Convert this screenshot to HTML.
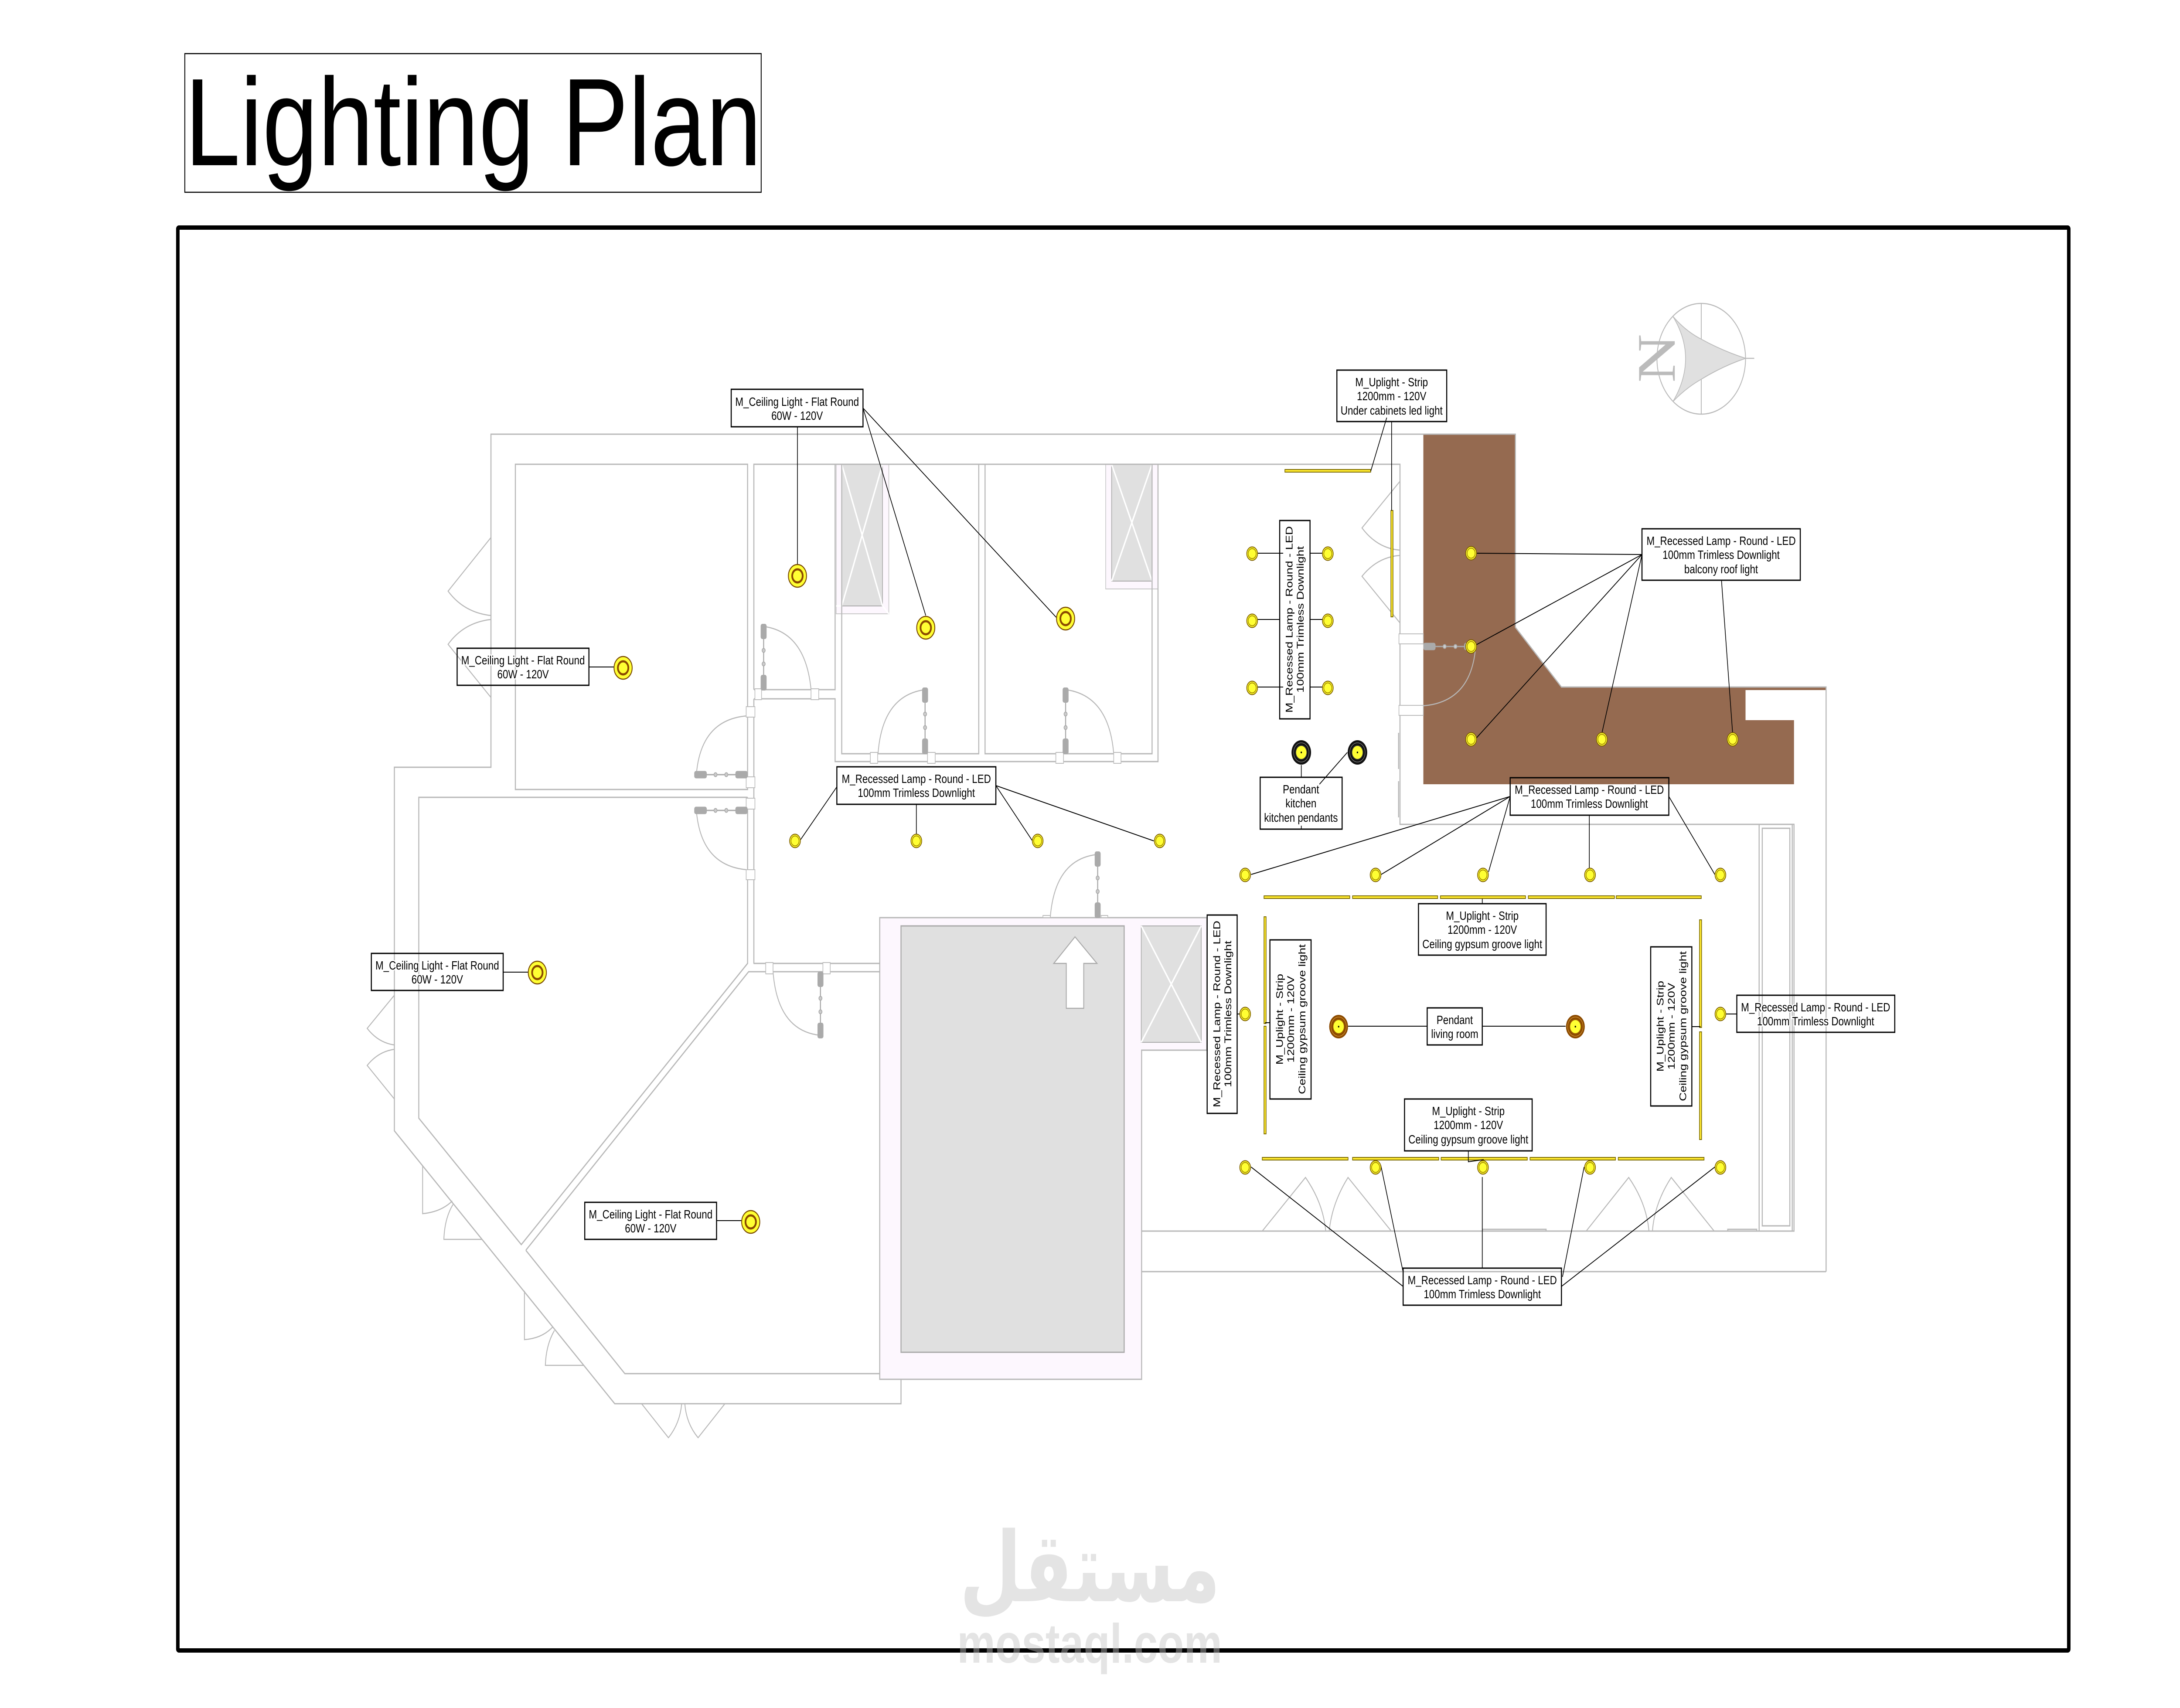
<!DOCTYPE html>
<html><head><meta charset="utf-8"><style>
html,body{margin:0;padding:0;background:#fff;width:100vw;height:100vh;overflow:hidden}
svg{display:block;width:100vw;height:100vh}
.w{fill:none;stroke:#b8b8b8;stroke-width:3}
.j{fill:#fff;stroke:#bdbdbd;stroke-width:2}
.b{fill:none;stroke:#000;stroke-width:3}
.l{fill:none;stroke:#000;stroke-width:2}
.t{font:28px "Liberation Sans",sans-serif;text-anchor:middle;fill:#000;paint-order:stroke;stroke:#fff;stroke-width:5}
.s{fill:#ffe930;stroke:#7a6a00;stroke-width:2}
</style></head><body>
<svg xmlns="http://www.w3.org/2000/svg" viewBox="0 0 6252 3918" preserveAspectRatio="none">
<defs>
<g id="door"><rect x="-8.5" y="0" width="17" height="35" rx="5" fill="#aaa"/><rect x="-8.5" y="117" width="17" height="36" rx="5" fill="#aaa"/><rect x="-1.5" y="30" width="3" height="90" fill="#aaa"/><circle cx="0" cy="61" r="4.5" fill="#ccc" stroke="#aaa" stroke-width="2"/><circle cx="0" cy="92" r="4.5" fill="#ccc" stroke="#aaa" stroke-width="2"/></g>
<g id="c"><circle r="26" fill="#ffff33" stroke="#7a4a00" stroke-width="2.5"/><circle r="15" fill="#ffff33" stroke="#8b4a00" stroke-width="5"/></g>
<g id="r"><circle r="15.5" fill="#ffff33" stroke="#7a5a00" stroke-width="2"/><circle r="11.5" fill="#ffff33" stroke="#a58a00" stroke-width="2"/></g>
<g id="pk"><circle r="28" fill="#111"/><circle r="22" fill="none" stroke="#777" stroke-width="1.5"/><circle r="16" fill="#ffff33" stroke="#333" stroke-width="2"/><circle r="2" fill="#000"/></g>
<g id="pl"><circle r="27" fill="#8b4a00"/><circle r="22" fill="none" stroke="#d09030" stroke-width="1.5"/><circle r="16" fill="#ffff33" stroke="#a06000" stroke-width="2"/><circle r="2" fill="#000"/></g>
</defs>

<!-- title -->
<rect x="530" y="123" width="1653" height="318" fill="#fff" stroke="#000" stroke-width="2.5"/>
<text x="530" y="379" font-family="Liberation Sans, sans-serif" font-size="286" textLength="1654" lengthAdjust="spacingAndGlyphs">Lighting Plan</text>

<!-- frame -->
<rect x="510" y="522" width="5423" height="3264" rx="3" fill="#fff" stroke="#000" stroke-width="10"/>

<!-- balcony -->
<polygon points="4082,996 4346,996 4346,1439 4478,1576 5237,1576 5237,1583 5006,1583 5006,1652 5145,1652 5145,1799 4082,1799" fill="#956a50"/>
<polyline class="w" points="4082,996 4346,996 4346,1439 4478,1576 5237,1576 5237,2917"/>

<!-- pink regions -->
<polygon points="2523,2105 3461,2105 3461,2409 3274,2409 3274,3164 2523,3164" fill="#fdf7fe" stroke="#b8b8b8" stroke-width="3"/>
<rect x="2584" y="2124" width="640" height="978" fill="#e0e0e0" stroke="#aaa" stroke-width="3"/>
<rect x="3273" y="2124" width="172" height="267" fill="#e0e0e0" stroke="#aaa" stroke-width="2"/>
<path d="M3273,2124L3445,2391M3445,2124L3273,2391" stroke="#fff" stroke-width="4" fill="none"/>
<polygon points="3083,2149 3146,2210 3108,2210 3108,2313 3058,2313 3058,2210 3022,2210" fill="#fff" stroke="#aaa" stroke-width="2.5"/>
<rect x="2398" y="1065" width="151" height="343" fill="#fdf7fe" stroke="#c8c8c8" stroke-width="2"/>
<rect x="2414" y="1065" width="117" height="325" fill="#e0e0e0" stroke="#aaa" stroke-width="2"/>
<path d="M2414,1065L2531,1390M2531,1065L2414,1390M2398,1390L2414,1390M2531,1390L2549,1408" stroke="#fff" stroke-width="4" fill="none"/>
<rect x="3171" y="1065" width="150" height="286" fill="#fdf7fe" stroke="#c8c8c8" stroke-width="2"/>
<rect x="3188" y="1065" width="116" height="268" fill="#e0e0e0" stroke="#aaa" stroke-width="2"/>
<path d="M3188,1065L3304,1333M3304,1065L3188,1333" stroke="#fff" stroke-width="4" fill="none"/>

<!-- walls -->
<polyline class="w" points="4082,996 1408,996 1408,1760 1131,1760 1131,2594 1763,3220 2584,3220 2584,3164"/>
<rect class="w" x="1478" y="1065" width="666" height="746"/>
<polyline class="w" points="2144,1829 1201,1829 1201,2565 1495,2855 2144,2210 2144,1829"/>
<polyline class="w" points="1508,2868 2147,2229 2523,2229"/>
<polyline class="w" points="1508,2868 1792,3151 2523,3151"/>
<polyline class="w" points="2161,2210 2523,2210"/>
<polyline class="w" points="2162,1603 2162,2210"/>
<polyline class="w" points="2162,1582 2162,1065 4015,1065 4015,1891 5145,1891 5145,2824 3274,2824"/>
<polyline class="w" points="2162,1582 2395,1582 2395,1065"/>
<polyline class="w" points="2162,1603 2395,1603 2395,1747 3321,1747 3321,1065"/>
<polyline class="w" points="2414,1065 2414,1729 2807,1729 2807,1065"/>
<polyline class="w" points="2825,1065 2825,1729 3304,1729 3304,1065"/>
<polyline class="w" points="3274,2917 5237,2917"/>
<rect class="w" x="5045" y="1891" width="95" height="933" stroke-width="2.5"/>
<rect class="w" x="5054" y="1900" width="79" height="912" stroke-width="2.5"/>
<path class="w" d="M4252,2824V2820H4434V2824M4955,2824V2820H5038V2824M4011,1681V1764M4011,1792V1875" stroke-width="2"/>

<!-- door swings -->
<g class="w" style="stroke-width:2.5">
<path d="M1408,1233L1285,1356Q1330,1405 1408,1412M1408,1421Q1330,1428 1285,1478L1408,1600"/>
<path d="M2190,1437Q2310,1450 2326,1582"/>
<path d="M1997,1777Q2010,1650 2144,1642"/>
<path d="M1997,1859Q2010,1985 2140,1995"/>
<path d="M2653,1582Q2530,1595 2518,1730"/>
<path d="M3056,1582Q3180,1595 3194,1729"/>
<path d="M3148,1960Q3025,1970 3012,2105"/>
<path d="M2353,2375Q2230,2365 2217,2229"/>
<path d="M4232,1483Q4220,1610 4082,1619"/>
<path d="M1131,2283L1053,2359Q1085,2392 1131,2397M1131,2407Q1085,2412 1053,2444L1131,2521"/>
<path d="M1212,2673V2784Q1265,2780 1297,2755M1299,2763Q1275,2795 1273,2843H1383"/>
<path d="M1504,2961V3073Q1555,3070 1585,3044M1590,3052Q1566,3085 1564,3132H1675"/>
<path d="M1840,3220L1917,3298Q1950,3265 1955,3220M1964,3220Q1968,3265 2002,3298L2079,3220"/>
<path d="M4015,1104L3906,1211Q3950,1258 4015,1262M4015,1274Q3950,1278 3906,1322L4015,1429"/>
<path d="M3620,2824L3744,2701Q3795,2760 3802,2824M3812,2824Q3820,2760 3866,2701L3990,2824"/>
<path d="M4549,2824L4671,2701Q4722,2760 4729,2824M4739,2824Q4745,2760 4793,2701L4916,2824"/>
</g>
<!-- door jambs -->
<g class="j">
<rect x="2496" y="1726" width="21" height="25"/><rect x="2660" y="1726" width="22" height="25"/>
<rect x="3028" y="1726" width="22" height="25"/><rect x="3194" y="1726" width="21" height="25"/>
<rect x="2165" y="1580" width="19" height="25"/><rect x="2326" y="1580" width="22" height="25"/>
<rect x="2140" y="1621" width="25" height="24"/><rect x="2140" y="1782" width="25" height="25"/>
<rect x="2140" y="1831" width="25" height="25"/><rect x="2140" y="1995" width="25" height="23"/>
<rect x="2196" y="2208" width="21" height="26"/><rect x="2360" y="2208" width="21" height="26"/>
<rect x="2991" y="2100" width="21" height="5"/><rect x="3158" y="2100" width="19" height="5"/>
<rect x="4012" y="1454" width="70" height="23"/><rect x="4012" y="1618" width="70" height="23"/>
</g>
<use href="#door" transform="translate(2190,1431)"/>
<use href="#door" transform="translate(2653,1577)"/>
<use href="#door" transform="translate(3056,1577)"/>
<use href="#door" transform="translate(3148,1953)"/>
<use href="#door" transform="translate(2353,2229)"/>
<use href="#door" transform="translate(2144,1777) rotate(90)"/>
<use href="#door" transform="translate(2144,1859) rotate(90)"/>
<use href="#door" transform="translate(4082,1483) rotate(-90)"/>

<!-- compass -->
<circle cx="4879" cy="823" r="127" fill="none" stroke="#bbb" stroke-width="2.5"/>
<path d="M4879,696V950M5006,822H5031" stroke="#bbb" stroke-width="2.5" fill="none"/>
<path d="M4798,726Q4835,760 4879,778Q4940,805 5006,822Q4940,840 4879,870Q4835,890 4798,921Q4870,822 4798,726Z" fill="#e0e0e0" stroke="#bbb" stroke-width="2"/>
<text transform="translate(4803,878) rotate(-90)" font-family="Liberation Serif, serif" font-size="156" fill="#bbb" textLength="112" lengthAdjust="spacingAndGlyphs">N</text>

<!-- strips -->
<g class="s">
<rect x="3685" y="1077" width="246" height="6"/><rect x="3989" y="1171" width="6" height="244"/>
<rect x="3625" y="2055" width="246" height="6"/><rect x="3879" y="2055" width="244" height="6"/><rect x="4131" y="2055" width="244" height="6"/><rect x="4383" y="2055" width="247" height="6"/><rect x="4635" y="2055" width="244" height="6"/>
<rect x="3620" y="2655" width="246" height="6"/><rect x="3879" y="2655" width="247" height="6"/><rect x="4133" y="2655" width="247" height="6"/><rect x="4388" y="2655" width="245" height="6"/><rect x="4641" y="2655" width="246" height="6"/>
<rect x="3625" y="2103" width="6" height="245"/><rect x="3625" y="2354" width="6" height="247"/>
<rect x="4874" y="2110" width="6" height="247"/><rect x="4874" y="2367" width="6" height="247"/>
</g>

<!-- leaders -->
<path class="l" d="M2287,979V1295M2475,936L2655,1412M2475,936L3029,1416
M1689,1530H1761M1443,2230H1515M2055,2800H2127
M2400,1805L2296,1926M2628,1845V1914M2856,1802L2961,1929M2856,1802L3309,1929
M3732,1783V1755M3864,1726L3784,1799M3732,1902V1894
M3606,1269H3680M3606,1421H3670M3606,1576H3680M3757,1269H3793M3757,1421H3793M3757,1576H3793
M3977,958L3931,1081M3991,967V1171
M4709,1272L4234,1269M4709,1272L4234,1479M4709,1272L4234,1693M4709,1272L4594,1682M4937,1331L4969,1682
M4331,1827L3588,2006M4331,1827L3961,2006M4331,1827L4269,2000M4558,1870V1992M4786,1827L4918,2006
M4251,2073V2062M4211,2640V2665L4255,2660
M3628,2346H3642M4852,2355H4877M3548,2326H3556
M3866,2354H4093M4251,2354H4490M4950,2326H4981
M4024,2951L3588,2677M4024,2918L3960,2673M4251,2909V2700M4481,2929L4543,2677M4478,2951L4918,2677"/>

<!-- lights -->
<use href="#c" x="2287" y="1321"/><use href="#c" x="2655" y="1440"/><use href="#c" x="3056" y="1419"/><use href="#c" x="1787" y="1532"/><use href="#c" x="1541" y="2231"/><use href="#c" x="2153" y="2803"/>
<use href="#r" x="2280" y="1929"/><use href="#r" x="2628" y="1929"/><use href="#r" x="2976" y="1929"/><use href="#r" x="3326" y="1929"/>
<use href="#r" x="3591" y="1270"/><use href="#r" x="3808" y="1270"/><use href="#r" x="3591" y="1424"/><use href="#r" x="3808" y="1424"/><use href="#r" x="3591" y="1578"/><use href="#r" x="3808" y="1578"/>
<use href="#r" x="4219" y="1269"/><use href="#r" x="4219" y="1483"/><use href="#r" x="4219" y="1696"/><use href="#r" x="4594" y="1696"/><use href="#r" x="4969" y="1696"/>
<use href="#r" x="3571" y="2007"/><use href="#r" x="3945" y="2007"/><use href="#r" x="4253" y="2007"/><use href="#r" x="4560" y="2007"/><use href="#r" x="4934" y="2007"/>
<use href="#r" x="3571" y="2326"/><use href="#r" x="4934" y="2326"/>
<use href="#r" x="3571" y="2678"/><use href="#r" x="3945" y="2678"/><use href="#r" x="4253" y="2678"/><use href="#r" x="4560" y="2678"/><use href="#r" x="4934" y="2678"/>
<use href="#pk" x="3732" y="1726"/><use href="#pk" x="3893" y="1726"/>
<use href="#pl" x="3839" y="2355"/><use href="#pl" x="4518" y="2355"/>

<!-- label boxes -->
<rect class="b" x="2097" y="893" width="378" height="86"/>
<text class="t" x="2286" y="931">M_Ceiling Light - Flat Round</text><text class="t" x="2286" y="963">60W - 120V</text>
<rect class="b" x="1311" y="1487" width="378" height="85"/>
<text class="t" x="1500" y="1524">M_Ceiling Light - Flat Round</text><text class="t" x="1500" y="1556">60W - 120V</text>
<rect class="b" x="1065" y="2187" width="378" height="85"/>
<text class="t" x="1254" y="2224">M_Ceiling Light - Flat Round</text><text class="t" x="1254" y="2256">60W - 120V</text>
<rect class="b" x="1677" y="2758" width="378" height="85"/>
<text class="t" x="1866" y="2795">M_Ceiling Light - Flat Round</text><text class="t" x="1866" y="2827">60W - 120V</text>
<rect class="b" x="2400" y="1759" width="456" height="86"/>
<text class="t" x="2628" y="1796">M_Recessed Lamp - Round - LED</text><text class="t" x="2628" y="1828">100mm Trimless Downlight</text>
<rect class="b" x="3614" y="1783" width="235" height="119"/>
<text class="t" x="3731" y="1820">Pendant</text><text class="t" x="3731" y="1852">kitchen</text><text class="t" x="3731" y="1885">kitchen pendants</text>
<rect class="b" x="3670" y="1194" width="87" height="455"/>
<text class="t" transform="translate(3707,1421) rotate(-90)">M_Recessed Lamp - Round - LED</text><text class="t" transform="translate(3739,1421) rotate(-90)">100mm Trimless Downlight</text>
<rect class="b" x="3834" y="849" width="315" height="118"/>
<text class="t" x="3991" y="886">M_Uplight - Strip</text><text class="t" x="3991" y="918">1200mm - 120V</text><text class="t" x="3991" y="951">Under cabinets led light</text>
<rect class="b" x="4709" y="1213" width="454" height="118"/>
<text class="t" x="4936" y="1250">M_Recessed Lamp - Round - LED</text><text class="t" x="4936" y="1282">100mm Trimless Downlight</text><text class="t" x="4936" y="1315">balcony roof light</text>
<rect class="b" x="4331" y="1784" width="455" height="86"/>
<text class="t" x="4558" y="1821">M_Recessed Lamp - Round - LED</text><text class="t" x="4558" y="1853">100mm Trimless Downlight</text>
<rect class="b" x="4068" y="2073" width="366" height="118"/>
<text class="t" x="4251" y="2110">M_Uplight - Strip</text><text class="t" x="4251" y="2142">1200mm - 120V</text><text class="t" x="4251" y="2175">Ceiling gypsum groove light</text>
<rect class="b" x="4028" y="2521" width="366" height="119"/>
<text class="t" x="4211" y="2558">M_Uplight - Strip</text><text class="t" x="4211" y="2590">1200mm - 120V</text><text class="t" x="4211" y="2623">Ceiling gypsum groove light</text>
<rect class="b" x="3642" y="2156" width="118" height="365"/>
<text class="t" transform="translate(3679,2338) rotate(-90)">M_Uplight - Strip</text><text class="t" transform="translate(3711,2338) rotate(-90)">1200mm - 120V</text><text class="t" transform="translate(3744,2338) rotate(-90)">Ceiling gypsum groove light</text>
<rect class="b" x="4734" y="2172" width="118" height="365"/>
<text class="t" transform="translate(4771,2354) rotate(-90)">M_Uplight - Strip</text><text class="t" transform="translate(4803,2354) rotate(-90)">1200mm - 120V</text><text class="t" transform="translate(4836,2354) rotate(-90)">Ceiling gypsum groove light</text>
<rect class="b" x="3462" y="2099" width="86" height="455"/>
<text class="t" transform="translate(3499,2326) rotate(-90)">M_Recessed Lamp - Round - LED</text><text class="t" transform="translate(3531,2326) rotate(-90)">100mm Trimless Downlight</text>
<rect class="b" x="4093" y="2312" width="158" height="85"/>
<text class="t" x="4172" y="2349">Pendant</text><text class="t" x="4172" y="2381">living room</text>
<rect class="b" x="4981" y="2283" width="453" height="85"/>
<text class="t" x="5207" y="2320">M_Recessed Lamp - Round - LED</text><text class="t" x="5207" y="2352">100mm Trimless Downlight</text>
<rect class="b" x="4024" y="2909" width="454" height="85"/>
<text class="t" x="4251" y="2946">M_Recessed Lamp - Round - LED</text><text class="t" x="4251" y="2978">100mm Trimless Downlight</text>

<!-- watermark -->
<g fill="#c3c3c3" opacity="0.435">
<text x="2752" y="3673" font-family="DejaVu Sans, sans-serif" font-weight="bold" font-size="222" textLength="748" lengthAdjust="spacingAndGlyphs" direction="rtl" style="unicode-bidi:bidi-override" dx="748">مستقل</text>
<text x="2745" y="3814" font-family="Liberation Sans, sans-serif" font-weight="bold" font-size="127" textLength="760" lengthAdjust="spacingAndGlyphs">mostaql.com</text>
</g>
</svg>
</body></html>
